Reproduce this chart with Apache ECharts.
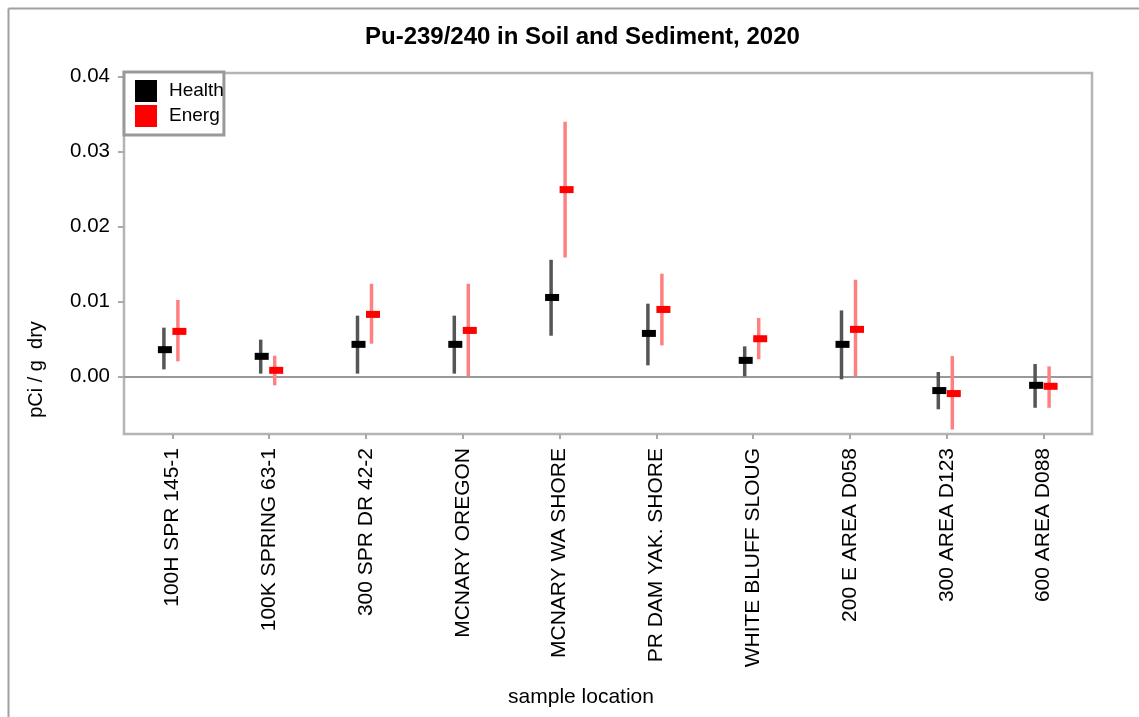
<!DOCTYPE html>
<html>
<head>
<meta charset="utf-8">
<title>Pu-239/240 in Soil and Sediment, 2020</title>
<script src="https://cdn.jsdelivr.net/npm/echarts@6/dist/echarts.min.js"></script>
<style>
  html, body { margin: 0; padding: 0; background: #fff; }
  #chart { width: 1139px; height: 717px; }
</style>
</head>
<body>
<div id="chart"></div>
<script>
const categories = [
  '100H SPR 145-1', '100K SPRING 63-1', '300 SPR DR 42-2', 'MCNARY OREGON', 'MCNARY WA SHORE',
  'PR DAM YAK. SHORE', 'WHITE BLUFF SLOUG', '200 E AREA D058', '300 AREA D123', '600 AREA D088'
]
const yTicks = [0, 0.01, 0.02, 0.03, 0.04]

// Health (black)
const healthValue = [0.00356, 0.00267, 0.00427, 0.00427, 0.01053, 0.00573, 0.00213, 0.00427, -0.0019, -0.0012]
const healthLow = [0.00093, 0.00036, 0.00036, 0.00036, 0.00542, 0.00147, 0.0, -0.0004, -0.0044, -0.0042]
const healthHigh = [0.0065, 0.0049, 0.0081, 0.0081, 0.01556, 0.0097, 0.0040, 0.0088, 0.00058, 0.00164]

// Energy (red)
const energyValue = [0.0060, 0.0008, 0.00827, 0.00613, 0.02493, 0.00893, 0.00502, 0.00627, -0.0023, -0.00133]
const energyLow = [0.0020, -0.0012, 0.00436, 0.0, 0.01587, 0.00413, 0.00227, 0.0, -0.0071, -0.0042]
const energyHigh = [0.0102, 0.00276, 0.01236, 0.01236, 0.034, 0.0137, 0.0078, 0.0129, 0.0027, 0.00133]

const FONT = '"Liberation Sans", Arial, sans-serif'

const toRows = (vals, lows, highs) => vals.map((v, i) => [i, v, lows[i], highs[i]])

// error bar + short horizontal marker, shifted sideways in pixels
const makeRenderer = (markerDx, lineDx, lineColor, markColor) => (params, api) => {
  const c = api.coord([api.value(0), api.value(1)])
  const lo = api.coord([api.value(0), api.value(2)])
  const hi = api.coord([api.value(0), api.value(3)])
  return {
    type: 'group',
    children: [
      {
        type: 'line',
        shape: { x1: c[0] + lineDx, y1: hi[1], x2: c[0] + lineDx, y2: lo[1] },
        style: { stroke: lineColor, lineWidth: 3.5 }
      },
      {
        type: 'rect',
        shape: { x: c[0] + markerDx - 7, y: c[1] - 3.5, width: 14, height: 7 },
        style: { fill: markColor }
      }
    ]
  }
}

const chart = echarts.init(document.getElementById('chart'))

chart.setOption({
  animation: false,
  backgroundColor: '#fff',
  title: {
    text: 'Pu-239/240 in Soil and Sediment, 2020',
    left: 365,
    top: 25,
    padding: 0,
    textStyle: { fontFamily: FONT, fontSize: 24, fontWeight: 'bold', color: '#000' }
  },
  legend: {
    orient: 'vertical',
    left: 124,
    top: 72,
    padding: [8, 0, 8, 11],
    itemWidth: 22,
    itemHeight: 22,
    itemGap: 3,
    icon: 'rect',
    selectedMode: false,
    borderColor: '#999',
    borderWidth: 3,
    backgroundColor: '#fff',
    textStyle: {
      fontFamily: FONT,
      fontSize: 19,
      color: '#000',
      width: 58,
      overflow: 'truncate',
      ellipsis: '',
      padding: [0, 0, 0, 7]
    },
    data: ['Health', 'Energy']
  },
  grid: {
    left: 124,
    right: 47,
    top: 73,
    bottom: 283,
    show: true,
    borderColor: '#b4b4b4',
    borderWidth: 2.5,
    backgroundColor: '#fff'
  },
  xAxis: {
    type: 'category',
    data: categories,
    boundaryGap: true,
    name: 'sample location',
    nameLocation: 'middle',
    nameGap: 253,
    nameTextStyle: { fontFamily: FONT, fontSize: 21, color: '#000', padding: [0, 54, 0, 0] },
    axisLine: { show: false, onZero: false },
    axisTick: { show: true, alignWithLabel: true, length: 5, lineStyle: { color: '#aaa', width: 2 } },
    axisLabel: { rotate: 90, margin: 14, fontFamily: FONT, fontSize: 21, color: '#000', interval: 0 },
    splitLine: { show: false }
  },
  yAxis: {
    type: 'value',
    min: -0.0077,
    max: 0.0405,
    name: 'pCi / g  dry',
    nameLocation: 'middle',
    nameGap: 78,
    nameRotate: 90,
    nameTextStyle: { fontFamily: FONT, fontSize: 20, color: '#000', padding: [0, 232, 0, 0] },
    axisLine: { show: false, onZero: false },
    axisTick: { show: true, length: 6, customValues: yTicks, lineStyle: { color: '#aaa', width: 2 } },
    axisLabel: {
      margin: 14,
      fontFamily: FONT,
      fontSize: 20.5,
      color: '#000',
      customValues: yTicks,
      formatter: v => v.toFixed(2)
    },
    splitLine: { show: false }
  },
  graphic: [
    { type: 'line', shape: { x1: 8.5, y1: 8.5, x2: 1139, y2: 8.5 }, style: { stroke: '#a0a0a0', lineWidth: 2 }, silent: true },
    { type: 'line', shape: { x1: 8.5, y1: 8.5, x2: 8.5, y2: 717 }, style: { stroke: '#a0a0a0', lineWidth: 2 }, silent: true }
  ],
  series: [
    {
      name: 'Health',
      type: 'custom',
      itemStyle: { color: '#000' },
      encode: { x: 0, y: 1 },
      renderItem: makeRenderer(-7.5, -8.5, '#555', '#000'),
      data: toRows(healthValue, healthLow, healthHigh),
      z: 3,
      markLine: {
        silent: true,
        symbol: 'none',
        label: { show: false },
        lineStyle: { color: '#999', width: 2, type: 'solid' },
        data: [{ yAxis: 0 }],
        z: 1
      }
    },
    {
      name: 'Energy',
      type: 'custom',
      itemStyle: { color: '#ff0000' },
      encode: { x: 0, y: 1 },
      renderItem: makeRenderer(7, 5.5, '#ff8080', '#ff0000'),
      data: toRows(energyValue, energyLow, energyHigh),
      z: 4
    }
  ]
})
</script>
</body>
</html>
